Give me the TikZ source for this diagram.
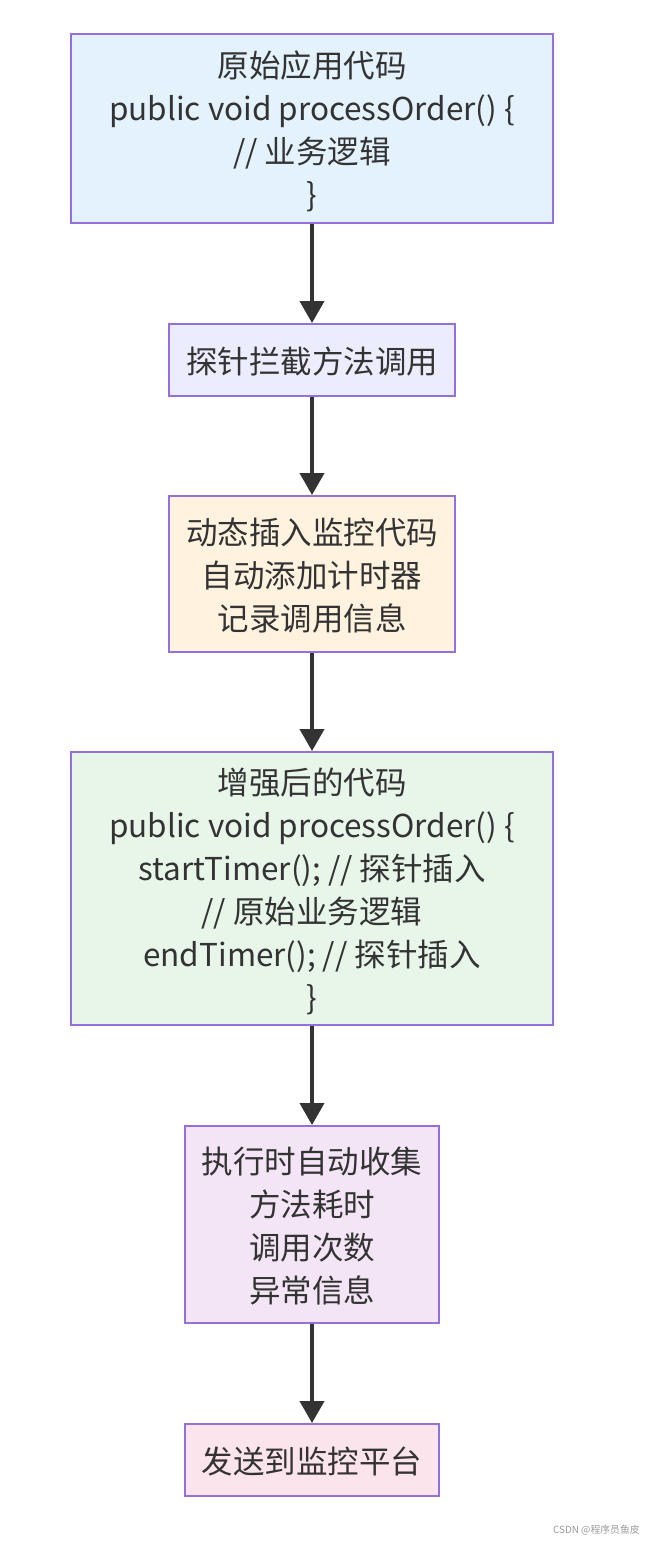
\documentclass[tikz,border=0pt]{standalone}
\usepackage{fontspec}
\setmainfont{Noto Sans CJK SC}
\usepackage{tikz}
\usetikzlibrary{arrows.meta}
\definecolor{boxline}{HTML}{9370DB}
\definecolor{inkgray}{HTML}{333333}
\definecolor{fillsrc}{HTML}{E3F2FD}
\definecolor{fillprobe}{HTML}{ECECFF}
\definecolor{fillinject}{HTML}{FFF3E0}
\definecolor{fillenh}{HTML}{E8F5E9}
\definecolor{fillcollect}{HTML}{F3E5F5}
\definecolor{fillsend}{HTML}{FCE4EC}
\def\px{0.025cm}
\tikzset{stage box/.style={draw=boxline,line width=1.4pt,rectangle,inner sep=0,align=center,
    text=inkgray,font=\fontsize{22.4pt}{30.5pt}\selectfont,text depth=0pt},
  flow arrow/.style={draw=inkgray,line width=2.8pt,-{Triangle[width=0.6cm,length=0.55cm]}}}

\begin{document}
\begin{tikzpicture}[x=0.025cm,y=-0.025cm]

            \useasboundingbox (0,0) rectangle (646,1542);

            \def \wideW{482*\px}
            \def \narrowW{286*\px}
            \def \smallW{254*\px}

            \node[stage box, fill=fillsrc, minimum width=\wideW, minimum height=189*\px] (src) at (312,128.5)
                {原始应用代码\\public void processOrder() \{\\// 业务逻辑\\\}};
            \node[stage box, fill=fillprobe, minimum width=\narrowW, minimum height=72*\px] (probe) at (312,360)
                {探针拦截方法调用};
            \node[stage box, fill=fillinject, minimum width=\narrowW, minimum height=156*\px] (inject) at (312,574)
                {动态插入监控代码\\自动添加计时器\\记录调用信息};
            \node[stage box, fill=fillenh, minimum width=\wideW, minimum height=273*\px] (enhanced) at (312,888.5)
                {增强后的代码\\public void processOrder() \{\\startTimer(); // 探针插入\\// 原始业务逻辑\\endTimer(); // 探针插入\\\}};
            \node[stage box, fill=fillcollect, minimum width=\smallW, minimum height=197*\px] (collect) at (312,1224.5)
                {执行时自动收集\\方法耗时\\调用次数\\异常信息};
            \node[stage box, fill=fillsend, minimum width=\smallW, minimum height=72*\px] (send) at (312,1460)
                {发送到监控平台};

            \draw[flow arrow] (src)      -- (probe);
            \draw[flow arrow] (probe)    -- (inject);
            \draw[flow arrow] (inject)   -- (enhanced);
            \draw[flow arrow] (enhanced) -- (collect);
            \draw[flow arrow] (collect)  -- (send);

            % watermark
            \node[anchor=east, text=black!40, font=\fontsize{7pt}{8pt}\selectfont, inner sep=0] (mark) at (640,1530)
                {CSDN @程序员鱼皮};

          \end{tikzpicture}
\end{document}
